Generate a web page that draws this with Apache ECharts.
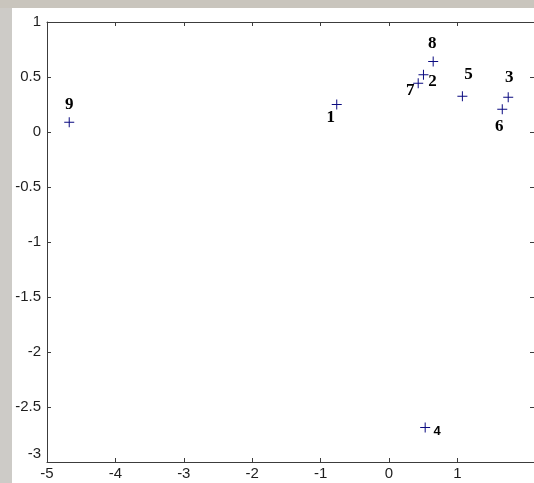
<!DOCTYPE html>
<html>
<head>
<meta charset="utf-8">
<script src="https://cdn.jsdelivr.net/npm/echarts@6/dist/echarts.min.js"></script>
<style>
html,body{margin:0;padding:0;background:#fff;}
#chart{width:534px;height:483px;}
</style>
</head>
<body>
<div id="chart"></div>
<script>
// ---- data ----
const pointNames = ['1', '2', '3', '4', '5', '6', '7', '8', '9'];
const xValues = [-0.764, 0.504, 1.743, 0.529, 1.073, 1.656, 0.427, 0.646, -4.675];
const yValues = [0.249, 0.52, 0.316, -2.686, 0.325, 0.206, 0.443, 0.641, 0.088];
const xTickValues = [-5, -4, -3, -2, -1, 0, 1];
const yTickValues = [1, 0.5, 0, -0.5, -1, -1.5, -2, -2.5, -3];

// ---- label placement (pixels relative to marker centre) ----
const labelOffsets = [[-6, 13], [9, 7], [1, -20], [12, 4], [6, -22], [-3, 17], [-8, 7], [-1, -18], [0, -18]];

const axisColor = '#3c3c3c';
const textColor = '#1e1e1e';

const points = pointNames.map((n, i) => ({
  name: n,
  value: [xValues[i], yValues[i]],
  label: {
    show: true,
    position: 'inside',
    offset: labelOffsets[i],
    formatter: n,
    fontFamily: n === '4' ? 'Liberation Sans' : 'Liberation Serif',
    fontWeight: 'bold',
    fontSize: n === '4' ? 13 : 17,
    color: '#000',
    textBorderWidth: 0,
    textShadowBlur: 0
  }
}));

const chart = echarts.init(document.getElementById('chart'), null, {renderer: 'canvas'});
const common = {
  axisLine: {show: true, onZero: false, lineStyle: {color: axisColor, width: 1}},
  splitLine: {show: false},
  axisTick: {show: true, inside: true, length: 4, lineStyle: {color: axisColor}}
};
chart.setOption({
  backgroundColor: '#ffffff',
  animation: false,
  graphic: [
    {type: 'rect', shape: {x: 0, y: 0, width: 12, height: 483}, style: {fill: '#cdcbc7'}, z: -10},
    {type: 'rect', shape: {x: 0, y: 0, width: 534, height: 8}, style: {fill: '#c9c5bd'}, z: -10}
  ],
  grid: {left: 47, right: -1, top: 22, bottom: 21, containLabel: false},
  xAxis: [
    Object.assign({}, common, {
      type: 'value', min: -5, max: 2.12, interval: 1, position: 'bottom',
      axisTick: Object.assign({}, common.axisTick, {customValues: xTickValues}),
      axisLabel: {customValues: xTickValues, margin: 4, fontFamily: 'Liberation Sans', fontSize: 15, color: textColor}
    }),
    Object.assign({}, common, {
      type: 'value', min: -5, max: 2.12, interval: 1, position: 'top',
      axisTick: Object.assign({}, common.axisTick, {customValues: xTickValues}),
      axisLabel: {show: false}
    })
  ],
  yAxis: [
    Object.assign({}, common, {
      type: 'value', min: -3, max: 1, interval: 0.5, position: 'left',
      axisLabel: {
        margin: 6, fontFamily: 'Liberation Sans', fontSize: 15, color: textColor,
        lineHeight: 17,
        formatter: v => v === -3 ? '-3\n ' : String(v)
      }
    }),
    Object.assign({}, common, {
      type: 'value', min: -3, max: 1, interval: 0.5, position: 'right',
      axisLabel: {show: false}
    })
  ],
  series: [{
    type: 'scatter',
    xAxisIndex: 0,
    yAxisIndex: 0,
    symbol: 'path://M4.5,0H5.5V10H4.5Z M0,4.5H10V5.5H0Z',
    symbolSize: 10,
    itemStyle: {color: '#0a0a80', opacity: 1},
    emphasis: {disabled: true},
    data: points
  }]
});
</script>
</body>
</html>
